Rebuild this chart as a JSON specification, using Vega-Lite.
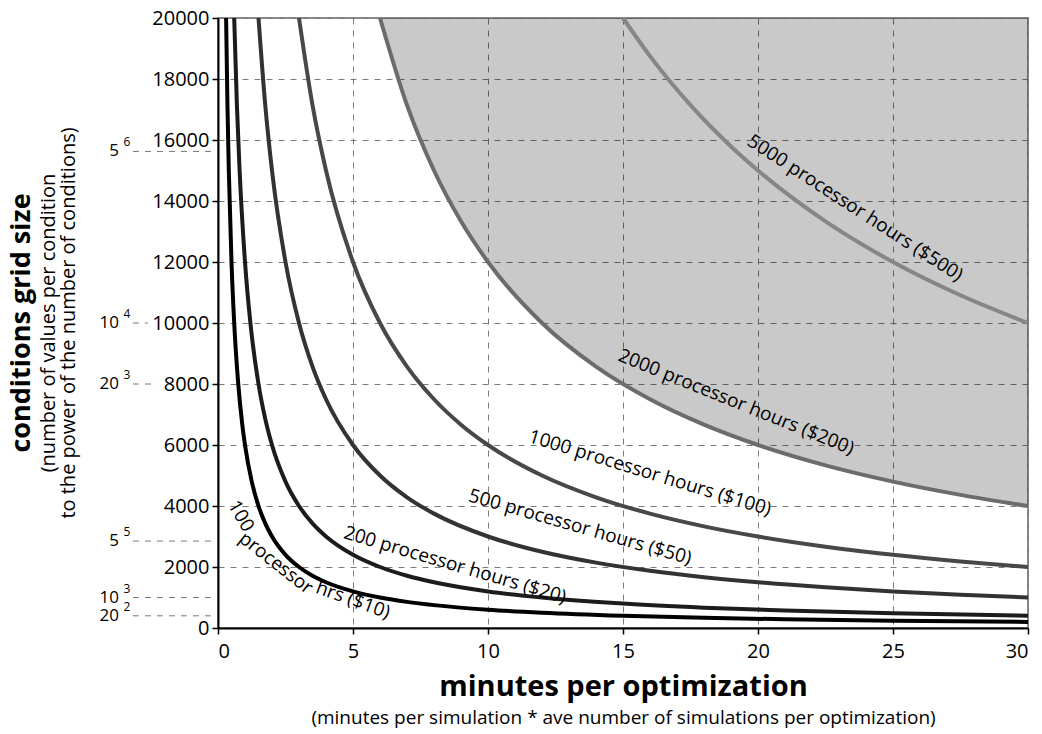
{
  "$schema": "https://vega.github.io/schema/vega-lite/v6.json",
  "width": 810,
  "height": 610,
  "autosize": "none",
  "padding": {"left": 218, "top": 18, "right": 14, "bottom": 106},
  "background": "white",
  "title": {
    "text": "conditions grid size",
    "subtitle": ["(number of values per condition", "to the power of the number of conditions)"],
    "orient": "left",
    "anchor": "middle",
    "font": "Open Sans",
    "fontSize": 27,
    "fontWeight": "bold",
    "color": "#000",
    "subtitleFont": "Open Sans",
    "subtitleFontSize": 20,
    "subtitleColor": "#000",
    "subtitlePadding": 3,
    "subtitleLineHeight": 20,
    "offset": 19
  },
  "datasets": {
    "curves": [
      {"h": "100", "x": 0.3, "y": 20000}, {"h": "100", "x": 0.35, "y": 17143}, {"h": "100", "x": 0.4, "y": 15000}, {"h": "100", "x": 0.5, "y": 12000}, {"h": "100", "x": 0.6, "y": 10000}, {"h": "100", "x": 0.75, "y": 8000}, {"h": "100", "x": 0.9, "y": 6667}, {"h": "100", "x": 1, "y": 6000}, {"h": "100", "x": 1.25, "y": 4800}, {"h": "100", "x": 1.5, "y": 4000}, {"h": "100", "x": 1.75, "y": 3429}, {"h": "100", "x": 2, "y": 3000}, {"h": "100", "x": 2.5, "y": 2400}, {"h": "100", "x": 3, "y": 2000}, {"h": "100", "x": 3.5, "y": 1714}, {"h": "100", "x": 4, "y": 1500}, {"h": "100", "x": 5, "y": 1200}, {"h": "100", "x": 6, "y": 1000}, {"h": "100", "x": 7, "y": 857}, {"h": "100", "x": 8, "y": 750}, {"h": "100", "x": 10, "y": 600}, {"h": "100", "x": 12, "y": 500}, {"h": "100", "x": 15, "y": 400}, {"h": "100", "x": 18, "y": 333}, {"h": "100", "x": 21, "y": 286}, {"h": "100", "x": 25, "y": 240}, {"h": "100", "x": 30, "y": 200},
      {"h": "200", "x": 0.6, "y": 20000}, {"h": "200", "x": 0.7, "y": 17143}, {"h": "200", "x": 0.8, "y": 15000}, {"h": "200", "x": 1, "y": 12000}, {"h": "200", "x": 1.2, "y": 10000}, {"h": "200", "x": 1.5, "y": 8000}, {"h": "200", "x": 1.75, "y": 6857}, {"h": "200", "x": 2, "y": 6000}, {"h": "200", "x": 2.5, "y": 4800}, {"h": "200", "x": 3, "y": 4000}, {"h": "200", "x": 3.5, "y": 3429}, {"h": "200", "x": 4, "y": 3000}, {"h": "200", "x": 5, "y": 2400}, {"h": "200", "x": 6, "y": 2000}, {"h": "200", "x": 7, "y": 1714}, {"h": "200", "x": 8, "y": 1500}, {"h": "200", "x": 10, "y": 1200}, {"h": "200", "x": 12, "y": 1000}, {"h": "200", "x": 15, "y": 800}, {"h": "200", "x": 18, "y": 667}, {"h": "200", "x": 21, "y": 571}, {"h": "200", "x": 25, "y": 480}, {"h": "200", "x": 30, "y": 400},
      {"h": "500", "x": 1.5, "y": 20000}, {"h": "500", "x": 1.75, "y": 17143}, {"h": "500", "x": 2, "y": 15000}, {"h": "500", "x": 2.5, "y": 12000}, {"h": "500", "x": 3, "y": 10000}, {"h": "500", "x": 3.5, "y": 8571}, {"h": "500", "x": 4, "y": 7500}, {"h": "500", "x": 5, "y": 6000}, {"h": "500", "x": 6, "y": 5000}, {"h": "500", "x": 7, "y": 4286}, {"h": "500", "x": 8, "y": 3750}, {"h": "500", "x": 10, "y": 3000}, {"h": "500", "x": 12, "y": 2500}, {"h": "500", "x": 14, "y": 2143}, {"h": "500", "x": 16, "y": 1875}, {"h": "500", "x": 18, "y": 1667}, {"h": "500", "x": 20, "y": 1500}, {"h": "500", "x": 22.5, "y": 1333}, {"h": "500", "x": 25, "y": 1200}, {"h": "500", "x": 27.5, "y": 1091}, {"h": "500", "x": 30, "y": 1000},
      {"h": "1000", "x": 3, "y": 20000}, {"h": "1000", "x": 3.5, "y": 17143}, {"h": "1000", "x": 4, "y": 15000}, {"h": "1000", "x": 5, "y": 12000}, {"h": "1000", "x": 6, "y": 10000}, {"h": "1000", "x": 7, "y": 8571}, {"h": "1000", "x": 8, "y": 7500}, {"h": "1000", "x": 9, "y": 6667}, {"h": "1000", "x": 10, "y": 6000}, {"h": "1000", "x": 12, "y": 5000}, {"h": "1000", "x": 14, "y": 4286}, {"h": "1000", "x": 16, "y": 3750}, {"h": "1000", "x": 18, "y": 3333}, {"h": "1000", "x": 20, "y": 3000}, {"h": "1000", "x": 22.5, "y": 2667}, {"h": "1000", "x": 25, "y": 2400}, {"h": "1000", "x": 27.5, "y": 2182}, {"h": "1000", "x": 30, "y": 2000},
      {"h": "2000", "x": 6, "y": 20000}, {"h": "2000", "x": 7, "y": 17143}, {"h": "2000", "x": 8, "y": 15000}, {"h": "2000", "x": 9, "y": 13333}, {"h": "2000", "x": 10, "y": 12000}, {"h": "2000", "x": 12, "y": 10000}, {"h": "2000", "x": 14, "y": 8571}, {"h": "2000", "x": 16, "y": 7500}, {"h": "2000", "x": 18, "y": 6667}, {"h": "2000", "x": 20, "y": 6000}, {"h": "2000", "x": 22.5, "y": 5333}, {"h": "2000", "x": 25, "y": 4800}, {"h": "2000", "x": 27.5, "y": 4364}, {"h": "2000", "x": 30, "y": 4000},
      {"h": "5000", "x": 15, "y": 20000}, {"h": "5000", "x": 16, "y": 18750}, {"h": "5000", "x": 17.5, "y": 17143}, {"h": "5000", "x": 19, "y": 15789}, {"h": "5000", "x": 20, "y": 15000}, {"h": "5000", "x": 22.5, "y": 13333}, {"h": "5000", "x": 25, "y": 12000}, {"h": "5000", "x": 27.5, "y": 10909}, {"h": "5000", "x": 30, "y": 10000}
    ],
    "labels": [
      {"id": "100a", "label": "100", "x": 0.85, "y": 3672},
      {"id": "100b", "label": "processor", "x": 2.15, "y": 2131},
      {"id": "100c", "label": "hrs ($10)", "x": 5.0, "y": 918},
      {"id": "200", "label": "200 processor hours ($20)", "x": 8.78, "y": 2066},
      {"id": "500", "label": "500 processor hours ($50)", "x": 13.41, "y": 3311},
      {"id": "1000", "label": "1000 processor hours ($100)", "x": 16.0, "y": 5082},
      {"id": "2000", "label": "2000 processor hours ($200)", "x": 19.19, "y": 7410},
      {"id": "5000", "label": "5000 processor hours ($500)", "x": 23.6, "y": 13770}
    ],
    "powers": [
      {"v": 15625, "base": "5", "exp": "6", "xstart": -3.15, "xend": -0.2},
      {"v": 10000, "base": "10", "exp": "4", "xstart": -3.15, "xend": -2.6},
      {"v": 8000, "base": "20", "exp": "3", "xstart": -3.15, "xend": -2.25},
      {"v": 2850, "base": "5", "exp": "5", "xstart": -3.15, "xend": -0.2},
      {"v": 1000, "base": "10", "exp": "3", "xstart": -3.15, "xend": -0.2},
      {"v": 400, "base": "20", "exp": "2", "xstart": -3.15, "xend": -0.2}
    ]
  },
  "layer": [
    {
      "layer": [
        {
          "data": {"name": "curves"},
          "transform": [{"filter": "datum.h == '2000'"}],
          "mark": {"type": "area", "interpolate": "monotone", "fill": "#000", "opacity": 0.21},
          "encoding": {
            "x": {
              "field": "x", "type": "quantitative", "scale": {"domain": [0, 30], "nice": false},
              "axis": {
                "values": [0, 5, 10, 15, 20, 25, 30],
                "title": "minutes per optimization",
                "titleFont": "Open Sans", "titleFontSize": 29, "titleFontWeight": "bold", "titleColor": "#000",
                "titlePadding": 11,
                "labelFont": "Open Sans", "labelFontSize": 20, "labelColor": "#000", "labelPadding": 7,
                "tickSize": 6, "tickColor": "#000", "tickWidth": 1.5,
                "domainColor": "#000", "domainWidth": 2,
                "grid": true, "gridDash": [6, 6], "gridColor": "#7a7a7a", "gridWidth": 1
              }
            },
            "y": {
              "field": "y", "type": "quantitative", "scale": {"domain": [0, 20000], "nice": false},
              "axis": {
                "values": [0, 2000, 4000, 6000, 8000, 10000, 12000, 14000, 16000, 18000, 20000],
                "format": "d",
                "title": null,
                "labelFont": "Open Sans", "labelFontSize": 20, "labelColor": "#000", "labelPadding": 3,
                "tickSize": 6, "tickColor": "#000", "tickWidth": 1.5,
                "domainColor": "#000", "domainWidth": 2,
                "grid": true, "gridDash": [6, 6], "gridColor": "#7a7a7a", "gridWidth": 1
              }
            },
            "y2": {"datum": 20000}
          }
        },
        {
          "data": {"name": "curves"},
          "mark": {"type": "line", "interpolate": "monotone", "strokeWidth": 4},
          "encoding": {
            "x": {"field": "x", "type": "quantitative", "scale": {"domain": [0, 30], "nice": false}},
            "y": {"field": "y", "type": "quantitative", "scale": {"domain": [0, 20000], "nice": false}},
            "detail": {"field": "h", "type": "nominal"},
            "color": {
              "field": "h", "type": "nominal", "legend": null,
              "scale": {"domain": ["100", "200", "500", "1000", "2000", "5000"], "range": ["#000000", "#1c1c1c", "#333333", "#484848", "#6c6c6c", "#868686"]}
            }
          }
        },
        {
          "data": {"name": "labels"},
          "transform": [{"filter": "datum.id == '100a'"}],
          "mark": {"type": "text", "angle": 60, "fontSize": 19, "font": "Open Sans", "color": "#000"},
          "encoding": {"x": {"field": "x", "type": "quantitative"}, "y": {"field": "y", "type": "quantitative"}, "text": {"field": "label", "type": "nominal"}}
        },
        {
          "data": {"name": "labels"},
          "transform": [{"filter": "datum.id == '100b'"}],
          "mark": {"type": "text", "angle": 38, "fontSize": 19, "font": "Open Sans", "color": "#000"},
          "encoding": {"x": {"field": "x", "type": "quantitative"}, "y": {"field": "y", "type": "quantitative"}, "text": {"field": "label", "type": "nominal"}}
        },
        {
          "data": {"name": "labels"},
          "transform": [{"filter": "datum.id == '100c'"}],
          "mark": {"type": "text", "angle": 20, "fontSize": 19, "font": "Open Sans", "color": "#000"},
          "encoding": {"x": {"field": "x", "type": "quantitative"}, "y": {"field": "y", "type": "quantitative"}, "text": {"field": "label", "type": "nominal"}}
        },
        {
          "data": {"name": "labels"},
          "transform": [{"filter": "datum.id == '200'"}],
          "mark": {"type": "text", "angle": 16.5, "fontSize": 19, "font": "Open Sans", "color": "#000"},
          "encoding": {"x": {"field": "x", "type": "quantitative"}, "y": {"field": "y", "type": "quantitative"}, "text": {"field": "label", "type": "nominal"}}
        },
        {
          "data": {"name": "labels"},
          "transform": [{"filter": "datum.id == '500'"}],
          "mark": {"type": "text", "angle": 16, "fontSize": 19, "font": "Open Sans", "color": "#000"},
          "encoding": {"x": {"field": "x", "type": "quantitative"}, "y": {"field": "y", "type": "quantitative"}, "text": {"field": "label", "type": "nominal"}}
        },
        {
          "data": {"name": "labels"},
          "transform": [{"filter": "datum.id == '1000'"}],
          "mark": {"type": "text", "angle": 17, "fontSize": 19, "font": "Open Sans", "color": "#000"},
          "encoding": {"x": {"field": "x", "type": "quantitative"}, "y": {"field": "y", "type": "quantitative"}, "text": {"field": "label", "type": "nominal"}}
        },
        {
          "data": {"name": "labels"},
          "transform": [{"filter": "datum.id == '2000'"}],
          "mark": {"type": "text", "angle": 22, "fontSize": 19, "font": "Open Sans", "color": "#000"},
          "encoding": {"x": {"field": "x", "type": "quantitative"}, "y": {"field": "y", "type": "quantitative"}, "text": {"field": "label", "type": "nominal"}}
        },
        {
          "data": {"name": "labels"},
          "transform": [{"filter": "datum.id == '5000'"}],
          "mark": {"type": "text", "angle": 33, "fontSize": 19, "font": "Open Sans", "color": "#000"},
          "encoding": {"x": {"field": "x", "type": "quantitative"}, "y": {"field": "y", "type": "quantitative"}, "text": {"field": "label", "type": "nominal"}}
        },
        {
          "data": {"name": "powers"},
          "mark": {"type": "rule", "strokeDash": [6, 6], "color": "#7a7a7a", "strokeWidth": 1, "clip": false},
          "encoding": {
            "x": {"field": "xstart", "type": "quantitative"},
            "x2": {"field": "xend"},
            "y": {"field": "v", "type": "quantitative"}
          }
        },
        {
          "data": {"name": "powers"},
          "mark": {"type": "text", "align": "right", "baseline": "middle", "fontSize": 17, "font": "Open Sans", "color": "#000", "clip": false},
          "encoding": {
            "x": {"datum": -3.67, "type": "quantitative"},
            "y": {"field": "v", "type": "quantitative"},
            "text": {"field": "base", "type": "nominal"}
          }
        },
        {
          "data": {"name": "powers"},
          "mark": {"type": "text", "align": "left", "baseline": "middle", "dy": -9, "fontSize": 12, "font": "Open Sans", "color": "#000", "clip": false},
          "encoding": {
            "x": {"datum": -3.5, "type": "quantitative"},
            "y": {"field": "v", "type": "quantitative"},
            "text": {"field": "exp", "type": "nominal"}
          }
        }
      ]
    },
    {
      "data": {"values": [{"x": 0}]},
      "mark": {"type": "rule", "opacity": 0},
      "encoding": {
        "x": {
          "field": "x", "type": "quantitative", "scale": {"domain": [0, 30], "nice": false},
          "axis": {
            "orient": "bottom", "labels": false, "ticks": false, "domain": false, "grid": false,
            "title": "(minutes per simulation * ave number of simulations per optimization)",
            "titleFont": "Open Sans", "titleFontSize": 19, "titleFontWeight": "normal", "titleColor": "#000",
            "titlePadding": 80
          }
        }
      }
    }
  ],
  "resolve": {"axis": {"x": "independent"}},
  "config": {
    "font": "Open Sans",
    "view": {"stroke": "#8a8a8a", "strokeWidth": 2}
  }
}
